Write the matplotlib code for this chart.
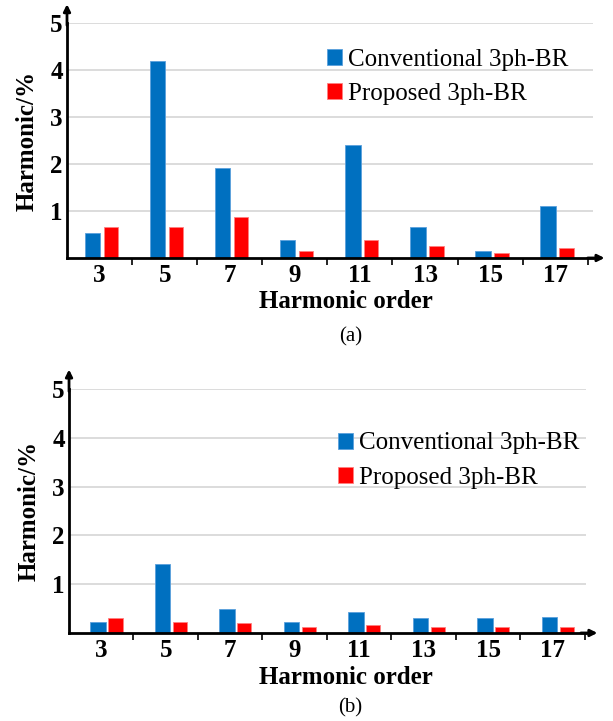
import numpy as np
import matplotlib.pyplot as plt

orders = [3, 5, 7, 9, 11, 13, 15, 17]

# THD components, panel (a)
conv_a = [0.53, 4.19, 1.91, 0.38, 2.40, 0.66, 0.15, 1.11]
prop_a = [0.66, 0.66, 0.87, 0.15, 0.38, 0.25, 0.11, 0.21]

# THD components, panel (b)
conv_b = [0.23, 1.42, 0.50, 0.23, 0.43, 0.30, 0.30, 0.33]
prop_b = [0.30, 0.23, 0.20, 0.13, 0.16, 0.13, 0.13, 0.13]

blue = '#0070C0'
red = '#FF0000'
serif = ['Liberation Serif', 'DejaVu Serif']

plt.rcParams['font.family'] = serif

fig = plt.figure(figsize=(6.13, 7.21), dpi=100)


def panel(rect, conv, prop, xmax, offs, leg_anchor, tag, tag_y, label_y):
    ax = fig.add_axes(rect)
    x = np.arange(len(orders))
    ax.bar(x + offs[0], conv, width=0.24, color=blue, edgecolor='#5aa0dc',
           linewidth=0.6, label='Conventional 3ph-BR', zorder=3)
    ax.bar(x + offs[1], prop, width=0.22, color=red, edgecolor='#ff8080',
           linewidth=0.6, label='Proposed 3ph-BR', zorder=3)
    ax.set_xlim(-0.5, xmax)
    ax.set_ylim(0, 5)
    ax.set_yticks([1, 2, 3, 4, 5])
    ax.set_xticks(x)
    ax.set_xticklabels([str(o) for o in orders])
    ax.set_xticks(np.arange(0.5, 8, 1.0), minor=True)
    ax.tick_params(axis='x', which='major', length=0, pad=4, labelsize=18)
    ax.tick_params(axis='x', which='minor', length=5, width=1.2, direction='out')
    ax.tick_params(axis='y', length=0, pad=3, labelsize=18)
    for lab in ax.get_xticklabels() + ax.get_yticklabels():
        lab.set_fontweight('bold')
    ax.yaxis.grid(True, color='#d9d9d9', linewidth=1.3, zorder=0)
    ax.set_axisbelow(True)
    for s in ['top', 'right']:
        ax.spines[s].set_visible(False)
    for s in ['left', 'bottom']:
        ax.spines[s].set_linewidth(2)
        ax.spines[s].set_zorder(4)
    # arrow heads on both axes
    ax.annotate('', xy=(1.022, 0), xytext=(0.99, 0), xycoords='axes fraction',
                arrowprops=dict(arrowstyle='-|>', color='black', lw=2,
                                mutation_scale=10, shrinkA=0, shrinkB=0),
                annotation_clip=False)
    ax.annotate('', xy=(0, 1.08), xytext=(0, 0.99), xycoords='axes fraction',
                arrowprops=dict(arrowstyle='-|>', color='black', lw=2,
                                mutation_scale=10, shrinkA=0, shrinkB=0),
                annotation_clip=False)
    ax.set_ylabel('Harmonic/%', fontsize=18, fontweight='bold', labelpad=8)
    fig.text(0.565, label_y, 'Harmonic order', fontsize=18, fontweight='bold',
             ha='center', va='center')
    fig.text(0.572, tag_y, tag, fontsize=15, ha='center', va='center')
    ax.legend(loc='upper left', bbox_to_anchor=leg_anchor, frameon=False,
              fontsize=18, handlelength=0.6, handleheight=0.6,
              handletextpad=0.25, labelspacing=0.5, borderaxespad=0)
    return ax


panel([0.1093, 0.6422, 0.858, 0.3259], conv_a, prop_a, 7.58, (-0.11, 0.175),
      (0.475, 0.933), '(a)', 1 - 337 / 721, 1 - 302 / 721)
panel([0.1126, 0.1221, 0.8434, 0.3384], conv_b, prop_b, 7.52, (-0.05, 0.22),
      (0.5, 0.863), '(b)', 1 - 708 / 721, 1 - 678 / 721)

fig.savefig('out.png', dpi=100)
